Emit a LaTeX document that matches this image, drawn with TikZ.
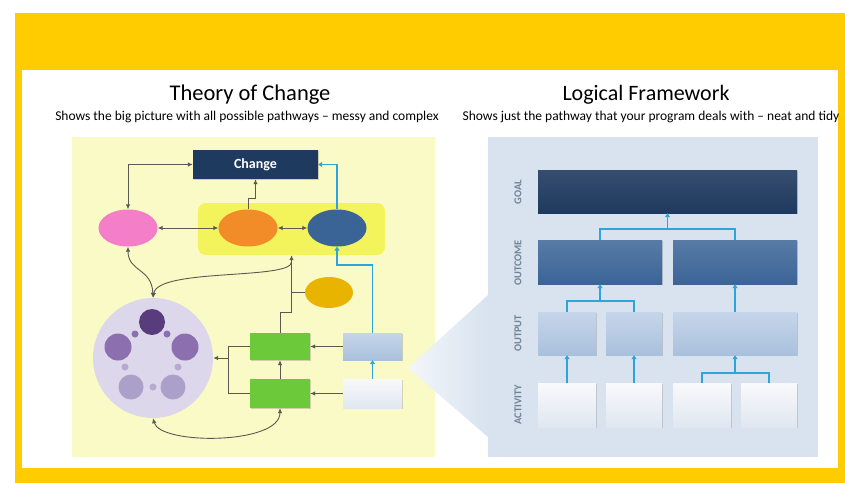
\documentclass[tikz,border=0pt]{standalone}
\usepackage{fontspec}
\setmainfont{Carlito}
\usetikzlibrary{arrows.meta,shapes.geometric,shadows}

\definecolor{bandyellow}{HTML}{FFCC00}
\definecolor{tocback}{HTML}{FAFAC6}
\definecolor{hlyellow}{HTML}{F3F35C}
\definecolor{navy}{HTML}{1F3A5F}
\definecolor{pinkblob}{HTML}{F47FC8}
\definecolor{orangeblob}{HTML}{F28C28}
\definecolor{blueblob}{HTML}{3B6496}
\definecolor{goldblob}{HTML}{E8B400}
\definecolor{greenbox}{HTML}{6CC93A}
\definecolor{lineblue}{HTML}{2BA5DC}
\definecolor{linegrey}{HTML}{5A5A50}
\definecolor{lfback}{HTML}{D8E3EF}
\definecolor{labelgrey}{HTML}{728396}
\definecolor{circback}{HTML}{DCD7EA}
\definecolor{purpledark}{HTML}{583C7C}
\definecolor{purplemid}{HTML}{8C6FAE}
\definecolor{purplelight}{HTML}{ABA0CA}
\definecolor{purpledot}{HTML}{B7AAD2}
\definecolor{outtop}{HTML}{C6D6EA}
\definecolor{outbottom}{HTML}{A9C0DC}
\definecolor{acttop}{HTML}{F8F9FB}
\definecolor{actbottom}{HTML}{E0E7F0}

\tikzstyle{toc}=[
    x=1pt, y=-1pt,
    greyline/.style={draw=linegrey, line width=0.9pt},
    greyarrow/.style={greyline, -{Latex[length=5pt,width=4.5pt]}},
    greyboth/.style={greyline, {Latex[length=5pt,width=4.5pt]}-{Latex[length=5pt,width=4.5pt]}},
    cyanline/.style={draw=lineblue, line width=1.3pt},
    cyanarrow/.style={cyanline, -{Triangle[length=4pt,width=5pt]}},
    blob/.style={ellipse, inner sep=0pt, minimum width=59pt, minimum height=37pt},
    shadowed/.style={drop shadow={shadow xshift=1.2pt, shadow yshift=-1.2pt, opacity=0.35}},
    tocbox/.style={shadowed, inner sep=0pt, minimum width=60pt},
    lfbox/.style={shadowed, inner sep=0pt, minimum height=43pt},
    outputbox/.style={lfbox, top color=outtop, bottom color=outbottom},
    activitybox/.style={lfbox, minimum height=44pt, top color=acttop, bottom color=actbottom},
    rowlabel/.style={rotate=90, text=labelgrey, font=\bfseries\fontsize{10.5}{11}\selectfont},
]

\begin{document}
\begin{tikzpicture}[toc]
    \useasboundingbox (0,0) rectangle (845,492);
    \fill[white] (0,0) rectangle (845,492);
    \fill[bandyellow] (15,13) rectangle (845,483);
    \fill[white] (22,70) rectangle (838,468);

    \node (toctitle) at (250,95) {\fontsize{22.5}{24}\selectfont Theory of Change};
    \node (tocsub) at (247,117) {\fontsize{13.5}{15}\selectfont Shows the big picture with all possible pathways -- messy and complex};
    \node (lftitle) at (646,95) {\fontsize{22}{24}\selectfont Logical Framework};
    \node (lfsub) at (651,117) {\fontsize{13.5}{15}\selectfont Shows just the pathway that your program deals with -- neat and tidy};

    % theory of change
    \fill[tocback] (72,137) rectangle (435,457);
    \node (hl) at (291.5,229) [fill=hlyellow, rounded corners=8pt, minimum width=187pt, minimum height=52pt] {};
    \node (change) at (255.5,164.5) [shadowed, fill=navy, text=white, minimum width=125pt, minimum height=29pt,
        font=\bfseries\fontsize{14}{15}\selectfont] {Change};
    \node (pink) at (128,228) [blob, fill=pinkblob] {};
    \node (orange) at (248,228) [blob, fill=orangeblob] {};
    \node (blue) at (337,228) [blob, fill=blueblob] {};
    \node (gold) at (329,292.5) [ellipse, inner sep=0pt, minimum width=48pt, minimum height=31pt, fill=goldblob] {};
    \node (circ) at (153,358) [circle, inner sep=0pt, minimum size=120pt, fill=circback] {};
    \fill[purpledark] (152,322) circle (13);
    \fill[purplemid] (118,347) circle (13.5) (185,347) circle (13.5);
    \fill[purplelight] (131,387) circle (12.5) (173,387) circle (12.5);
    \fill[purplemid] (135,334) circle (3.5) (167,334) circle (3.5);
    \fill[purpledot] (125,367) circle (3.5) (178,367) circle (3.5) (153,387) circle (3.5);
    \node (gtop) at (280,346.5) [tocbox, fill=greenbox, minimum height=27pt] {};
    \node (gbot) at (280,393.5) [tocbox, fill=greenbox, minimum height=29pt] {};
    \node (outbox) at (372.5,346.5) [tocbox, minimum width=59pt, minimum height=27pt, top color=outtop, bottom color=outbottom] {};
    \node (actbox) at (372.5,393.5) [tocbox, minimum width=59pt, minimum height=29pt, top color=acttop, bottom color=actbottom] {};
    \coordinate (gjoin) at (228,358);

    \draw[greyboth] (pink.north) |- (change.west);
    \draw[greyboth] (pink) -- (orange);
    \draw[greyboth] (orange) -- (blue);
    \draw[greyarrow] (orange.north) -- (orange.north |- 0,198) -- (change.south |- 0,198) -- (change.south);
    \draw[cyanarrow] (blue.north) |- (change.east);
    \draw[cyanarrow] (outbox.north) -- (outbox.north |- 0,265) -| (blue.south);
    \draw[cyanarrow] (actbox) -- (outbox);
    \draw[greyarrow] (outbox) -- (gtop);
    \draw[greyarrow] (actbox) -- (gbot);
    \draw[greyarrow] (gbot) -- (gtop);
    \draw[greyline] (gtop.west) -- (gtop.west -| gjoin) -- (gbot.west -| gjoin) -- (gbot.west);
    \draw[greyarrow] (gjoin) -- (circ.east);
    \draw[greyarrow] (gtop.north) -- (gtop.north |- 0,312) -| (hl.south);
    \draw[greyline] (gold.west) -- (gold.west -| hl.south);
    \draw[greyarrow] (hl.south |- 0,262) .. controls (291.5,280) and (158,268) .. (circ.north);
    \draw[greyboth] (pink.south) .. controls (128,272) and (152,268) .. (circ.north);
    \draw[greyboth] (circ.south) .. controls (160,445) and (280,445) .. (gbot.south);

    % logical framework
    \fill[lfback] (488,137) rectangle (818,457);
    \shade[left color=lfback!30!white, right color=lfback] (488,295) -- (408,368) -- (488,437) -- cycle;
    \node (lgoal) at (518,192) [rowlabel] {GOAL};
    \node (loutcome) at (518,263) [rowlabel] {OUTCOME};
    \node (loutput) at (518,333.5) [rowlabel] {OUTPUT};
    \node (lactivity) at (518,405) [rowlabel] {ACTIVITY};

    \node (goal) at (667.5,191.5) [lfbox, minimum width=259pt, top color=navy!90!white, bottom color=navy] {};
    \node (oc1) at (600,262) [lfbox, minimum width=124pt, minimum height=44pt, top color=blueblob!85!white, bottom color=blueblob] {};
    \node (oc2) at (735,262) [lfbox, minimum width=124pt, minimum height=44pt, top color=blueblob!85!white, bottom color=blueblob] {};
    \node (op1) at (567,333.5) [outputbox, minimum width=58pt] {};
    \node (op2) at (634,333.5) [outputbox, minimum width=56pt] {};
    \node (op3) at (735,333.5) [outputbox, minimum width=124pt] {};
    \node (ac1) at (567,405) [activitybox, minimum width=58pt] {};
    \node (ac2) at (634,405) [activitybox, minimum width=56pt] {};
    \node (ac3) at (702,405) [activitybox, minimum width=58pt] {};
    \node (ac4) at (769,405) [activitybox, minimum width=56pt] {};

    \draw[cyanline] (oc1.north) -- (oc1.north |- 0,229) -- (oc2.north |- 0,229) -- (oc2.north);
    \draw[cyanarrow] (goal.south |- 0,229) -- (goal.south);
    \draw[cyanline] (op1.north) -- (op1.north |- 0,301) -- (op2.north |- 0,301) -- (op2.north);
    \draw[cyanarrow] (oc1.south |- 0,301) -- (oc1.south);
    \draw[cyanarrow] (op3) -- (oc2);
    \draw[cyanarrow] (ac1) -- (op1);
    \draw[cyanarrow] (ac2) -- (op2);
    \draw[cyanline] (ac3.north) -- (ac3.north |- 0,373) -- (ac4.north |- 0,373) -- (ac4.north);
    \draw[cyanarrow] (op3.south |- 0,373) -- (op3.south);
\end{tikzpicture}
\end{document}
